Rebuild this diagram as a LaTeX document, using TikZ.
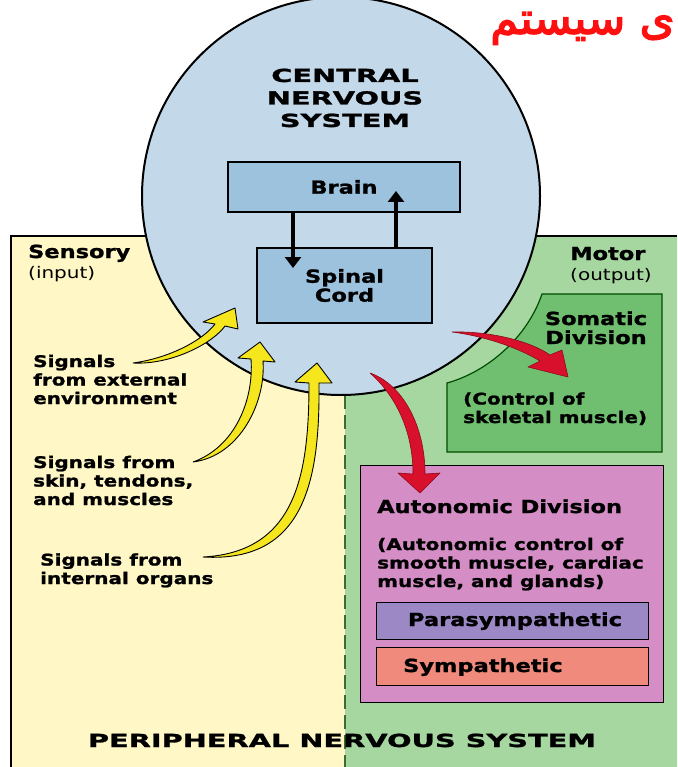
\documentclass[tikz,border=0pt]{standalone}
\usepackage{fontspec}
\setmainfont{DejaVu Sans}[FakeStretch=1.25,BoldFeatures={FakeBold=1.3}]
\newfontfamily\ttlfont{DejaVu Sans}[FakeStretch=1.6,BoldFeatures={FakeBold=1.5}]
\newfontfamily\arfont{DejaVu Sans}[Script=Arabic,FakeBold=3]
\TeXXeTstate=1
\usetikzlibrary{arrows.meta}
\definecolor{ylwpanel}{HTML}{FFF8C6}
\definecolor{grnpanel}{HTML}{A6D7A0}
\definecolor{cnsfill}{HTML}{C3D9EA}
\definecolor{cnsbox}{HTML}{9CC2DE}
\definecolor{somfill}{HTML}{70BF70}
\definecolor{autfill}{HTML}{D48DC5}
\definecolor{parafill}{HTML}{9B88C5}
\definecolor{sympfill}{HTML}{F08A7C}
\definecolor{arrowyellow}{HTML}{F5E61E}
\definecolor{arrowred}{HTML}{D8102C}
\definecolor{arrowreddark}{HTML}{8A0A1A}
\definecolor{dashgreen}{HTML}{3F6B2F}
\definecolor{titlered}{HTML}{FF1010}
\begin{document}
\begin{tikzpicture}[x=1pt,y=-1pt,
  hdr/.style={font=\fontsize{18}{19}\selectfont\bfseries, inner sep=0pt},
  body/.style={font=\fontsize{16}{18.5}\selectfont\bfseries, inner sep=0pt, align=left},
  plain/.style={font=\fontsize{16}{18}\selectfont, inner sep=0pt},
  ttl/.style={font=\ttlfont\fontsize{18}{22.5}\selectfont\bfseries, inner sep=0pt, align=center},
  boxed/.style={draw=black, line width=1.2pt},
  yarrow/.style={fill=arrowyellow, draw=black, line width=0.9pt, line join=round},
  rarrow/.style={fill=arrowred, draw=arrowreddark, line width=0.6pt, line join=round},
  blkarrow/.style={line width=3.5pt, -{Triangle[length=11pt,width=16pt]}}
]
\useasboundingbox[fill=white] (0,0) rectangle (677,767);
% panels
\fill[ylwpanel] (11,236) rectangle (345,767);
\fill[grnpanel] (345,236) rectangle (677,767);
\draw[line width=1.5pt] (11,767) -- (11,236) -- (677,236);
\draw[dashgreen, line width=2.2pt, dash pattern=on 14pt off 6pt] (345,395) -- (345,767);
% CNS circle
\node[circle, draw=black, line width=2pt, fill=cnsfill, minimum size=398pt, inner sep=0pt] (cnscircle) at (341,196) {};
\node[ttl, anchor=base] (cnstitle) at (345,127) {CENTRAL\\NERVOUS\\SYSTEM};
\node[boxed, fill=cnsbox, minimum width=232pt, minimum height=50pt, hdr] (brain) at (344,187) {Brain};
\node[boxed, fill=cnsbox, minimum width=175pt, minimum height=75pt, hdr, align=center] (spinal) at (344.5,285.5) {Spinal\\Cord};
\coordinate (dtip) at (293,268);
\coordinate (utip) at (396,191);
\draw[blkarrow] (brain.south -| dtip) -- (dtip);
\draw[blkarrow] (spinal.north -| utip) -- (utip);
% labels left
\node[hdr, anchor=base west] (sensory) at (28,258) {Sensory};
\node[plain, anchor=base west] (input) at (28,278) {(input)};
\node[body, anchor=base west] (sig1) at (33,404) {Signals\\from external\\environment};
\node[body, anchor=base west] (sig2) at (33,505) {Signals from\\skin, tendons,\\and muscles};
\node[body, anchor=base west] (sig3) at (40,584) {Signals from\\internal organs};
% labels right
\node[hdr, anchor=base west] (motor) at (570,260) {Motor};
\node[plain, anchor=base west] (output) at (570,280) {(output)};
% somatic
\draw[fill=somfill, draw=black!70!green, line width=1.2pt] (542,294) -- (662,294) -- (662,452) -- (447,452) -- (447,383) .. controls (487,372) and (527,338) .. (542,294) -- cycle;
\node[hdr, align=center, anchor=base] (somatic) at (596,344) {Somatic\\Division};
\node[body, anchor=base west] (somctl) at (463,423) {(Control of\\skeletal muscle)};
% autonomic
\node[boxed, fill=autfill, minimum width=303pt, minimum height=237pt, anchor=north west] (aut) at (360,465) {};
\node[hdr, anchor=base west] (auttitle) at (377,513) {Autonomic Division};
\node[body, anchor=base west] (autctl) at (377,587) {(Autonomic control of\\smooth muscle, cardiac\\muscle, and glands)};
\node[boxed, fill=parafill, minimum width=272pt, minimum height=37pt, anchor=north west] (para) at (376,602) {};
\node[hdr, anchor=base] (paratext) at (515,626) {Parasympathetic};
\node[boxed, fill=sympfill, minimum width=272pt, minimum height=38pt, anchor=north west] (symp) at (376,647) {};
\node[hdr, anchor=base west] (symptext) at (403,672) {Sympathetic};
% PNS title
\node[ttl, anchor=base] (pns) at (342,747) {PERIPHERAL NERVOUS SYSTEM};
% Arabic title
\node[anchor=base east, inner sep=0pt, text=titlered, font=\arfont\fontsize{45}{48}\selectfont] (artitle) at (675,34) {\beginR ی سیستم\endR};
% yellow arrows
\coordinate (t1) at (133,363);
\coordinate (t2) at (193,462);
\coordinate (t3) at (203,557);
\draw[yarrow] (t1) .. controls (170,358) and (203,340) .. (215,324) -- (203,322) -- (235,308) -- (238,329) -- (225,326) .. controls (213,343) and (172,365) .. (t1) -- cycle;
\draw[yarrow] (t2) .. controls (235,447) and (254,400) .. (251,359) -- (238,358) -- (260,342) -- (275,362) -- (263,361) .. controls (266,402) and (240,456) .. (t2) -- cycle;
\draw[yarrow] (t3) .. controls (296,552) and (309,475) .. (309,383) -- (295,382) -- (317,363) -- (332,383) -- (319,383) .. controls (320,480) and (305,563) .. (t3) -- cycle;
% red arrows
\coordinate (r1) at (452,332);
\coordinate (r2) at (370,373);
\draw[rarrow] (r1) .. controls (490,331) and (530,341) .. (550,355) -- (562,350) -- (568,377) -- (528,367) -- (540,361) .. controls (522,350) and (490,337) .. (r1) -- cycle;
\draw[rarrow] (r2) .. controls (395,395) and (413,430) .. (413,474) -- (398,473) -- (420,493) -- (440,473) -- (425,474) .. controls (425,425) and (402,384) .. (r2) -- cycle;
\end{tikzpicture}
\end{document}
